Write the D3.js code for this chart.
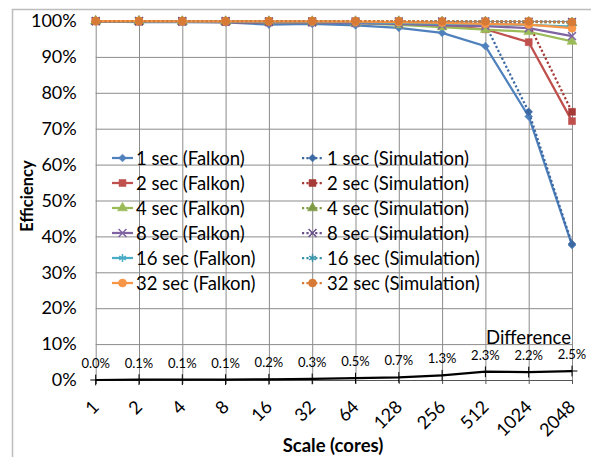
<!DOCTYPE html>
<html><head><meta charset="utf-8">
<script src="https://cdn.jsdelivr.net/npm/d3@7"></script>
<style>
html,body{margin:0;padding:0;background:#fff;}
svg{display:block;font-family:Lato,"Open Sans",sans-serif;}
</style></head>
<body><svg id="c" width="591" height="457"></svg>
<script>
// ---- data ----
const categories = ["1","2","4","8","16","32","64","128","256","512","1024","2048"];
const yTicks = [0,10,20,30,40,50,60,70,80,90,100];
const seriesNames = ["1 sec","2 sec","4 sec","8 sec","16 sec","32 sec"];
const falkon1  = [99.9, 99.7, 99.7, 99.6, 99.0, 99.2, 98.8, 98.1, 96.7, 93.0, 73.4, 37.6];
const sim1     = [100, 99.9, 99.9, 99.9, 99.8, 99.8, 99.7, 99.6, 99.4, 99.0, 74.7, 37.9];
const falkon2  = [99.9, 99.8, 99.8, 99.7, 99.6, 99.6, 99.5, 99.2, 98.7, 97.7, 94.1, 72.1];
const sim2     = [100, 99.9, 99.9, 99.9, 99.9, 99.9, 99.8, 99.8, 99.7, 99.5, 99.2, 74.7];
const falkon4  = [99.9, 99.8, 99.8, 99.8, 99.7, 99.6, 99.4, 98.9, 98.3, 97.6, 97.0, 94.3];
const sim4     = [100, 100, 99.9, 99.9, 99.9, 99.9, 99.9, 99.9, 99.8, 99.8, 99.7, 99.5];
const falkon8  = [99.9, 99.9, 99.8, 99.8, 99.7, 99.6, 99.4, 99.2, 98.8, 98.6, 98.0, 95.8];
const sim8     = [100, 100, 100, 100, 99.9, 99.9, 99.9, 99.9, 99.9, 99.9, 99.8, 99.7];
const falkon16 = [100, 99.9, 99.9, 99.9, 99.8, 99.8, 99.7, 99.5, 99.3, 99.1, 98.9, 98.4];
const sim16    = [100, 100, 100, 100, 100, 100, 99.9, 99.9, 99.9, 99.9, 99.9, 99.8];
const falkon32 = [100, 100, 99.9, 99.9, 99.9, 99.9, 99.8, 99.7, 99.5, 99.2, 99.0, 98.0];
const sim32    = [100, 100, 100, 100, 100, 100, 100, 100, 99.9, 99.9, 99.9, 99.7];
const difference = [0.0, 0.1, 0.1, 0.1, 0.2, 0.3, 0.5, 0.7, 1.3, 2.3, 2.2, 2.5];
const diffLabels = ["0.0%","0.1%","0.1%","0.1%","0.2%","0.3%","0.5%","0.7%","1.3%","2.3%","2.2%","2.5%"];

const falkonColors = ["#4F81BD","#C0504D","#9BBB59","#8064A2","#4BACC6","#F79646"];
const simColors    = ["#3D69A3","#A63A37","#7F9C45","#684F88","#3792AA","#D67A36"];
const markerTypes  = ["diamond","square","triangle","times","asterisk","circle"];

const falkonData = [falkon1,falkon2,falkon4,falkon8,falkon16,falkon32];
const simData    = [sim1,sim2,sim4,sim8,sim16,sim32];

// ---- chart ----
const svg = d3.select("#c");
const x = d3.scalePoint().domain(categories).range([95.7, 572]);
const y = d3.scaleLinear().domain([0,100]).range([380, 21]);
const gridColor = "#8c8c8c";

// outer border
svg.append("rect").attr("x",12.5).attr("y",9.5).attr("width",620).attr("height",480)
  .attr("fill","none").attr("stroke","#bdbdbd").attr("stroke-width",1.5);

// horizontal gridlines
svg.append("g").attr("transform","translate(95.7,0)")
  .call(d3.axisLeft(y).tickValues(yTicks.slice(1)).tickSize(-(572-95.7)).tickFormat(""))
  .call(g=>g.select(".domain").remove())
  .call(g=>g.selectAll("line").attr("stroke",gridColor).attr("stroke-width",1));
// vertical gridlines
svg.append("g").attr("transform","translate(0,21)")
  .call(d3.axisTop(x).tickSize(-(380-21)).tickFormat(""))
  .call(g=>g.select(".domain").remove())
  .call(g=>g.selectAll("line").attr("stroke",gridColor).attr("stroke-width",1));

// y labels
svg.append("g").attr("transform","translate(95.7,0)")
  .call(d3.axisLeft(y).tickValues(yTicks).tickSize(0).tickPadding(19).tickFormat(d=>d+"%"))
  .call(g=>g.select(".domain").remove())
  .call(g=>g.selectAll("text").attr("font-size",18).attr("fill","#000").attr("font-family","Lato"));

// x axis
const xa = svg.append("g").attr("transform","translate(0,380)")
  .call(d3.axisBottom(x).tickSize(4))
  .call(g=>g.select(".domain").attr("stroke","#555"))
  .call(g=>g.selectAll("line").attr("stroke","#555"));
xa.selectAll("text").attr("font-size",18).attr("fill","#000").attr("font-family","Lato")
  .attr("text-anchor","end").attr("x",0).attr("y",0).attr("dy",null)
  .attr("transform","translate(4,28) rotate(-45)");

// marker helper
function symbolFor(t){
  switch(t){
    case "diamond": return {type:d3.symbolSquare,size:30,rot:45,fill:true};
    case "square": return {type:d3.symbolSquare,size:48,rot:0,fill:true};
    case "triangle": return {type:d3.symbolTriangle,size:42,rot:0,fill:true};
    case "times": return {type:d3.symbolTimes,size:42,rot:0,fill:false};
    case "asterisk": return {type:d3.symbolAsterisk,size:42,rot:0,fill:false};
    case "circle": return {type:d3.symbolCircle,size:50,rot:0,fill:true};
  }
}
function drawMarker(g, t, color, cx, cy){
  const s = symbolFor(t);
  g.append("path").attr("d", d3.symbol().type(s.type).size(s.size)())
    .attr("transform",`translate(${cx},${cy}) rotate(${s.rot})`)
    .attr("fill", s.fill ? color : "none")
    .attr("stroke", color).attr("stroke-width", s.fill ? 0.6 : 1.5);
}

const line = d3.line().x((d,i)=>x(categories[i])).y(d=>y(d));
const plot = svg.append("g");
for(let k=0;k<6;k++){
  [[falkonData[k], falkonColors[k], false],[simData[k], simColors[k], true]].forEach(([data,color,dotted])=>{
    const g = plot.append("g");
    g.append("path").datum(data).attr("d",line).attr("fill","none")
      .attr("stroke",color).attr("stroke-width",2.25)
      .attr("stroke-dasharray", dotted ? "2.2,2.2" : null);
    data.forEach((v,i)=>drawMarker(g, markerTypes[k], color, x(categories[i]), y(v)));
  });
}

// difference series
const dg = svg.append("g");
dg.append("path").datum(difference).attr("d",line).attr("fill","none")
  .attr("stroke","#000").attr("stroke-width",2.25);
difference.forEach((v,i)=>{
  const cx = x(categories[i]), cy = y(v);
  dg.append("path").attr("d", d3.symbol().type(d3.symbolPlus).size(40)())
    .attr("transform",`translate(${cx},${cy})`).attr("fill","none").attr("stroke","#000").attr("stroke-width",1);
  dg.append("text").attr("x",cx).attr("y",cy-12).attr("text-anchor","middle")
    .attr("font-size",13).attr("fill","#000").text(diffLabels[i]);
});
dg.append("text").attr("x",571).attr("y",344).attr("text-anchor","end")
  .attr("font-size",18.5).attr("fill","#000").text("Difference");

// legend
const lg = svg.append("g");
for(let k=0;k<6;k++){
  const ry = 158 + k*25;
  [[112,136,falkonColors[k],false," (Falkon)"],[302,327,simColors[k],true," (Simulation)"]].forEach(([lx,tx,color,dotted,suffix])=>{
    lg.append("line").attr("x1",lx).attr("x2",lx+21).attr("y1",ry).attr("y2",ry)
      .attr("stroke",color).attr("stroke-width",2.25).attr("stroke-dasharray",dotted?"2.2,2.2":null);
    drawMarker(lg, markerTypes[k], color, lx+10.5, ry);
    lg.append("text").attr("x",tx).attr("y",ry).attr("dy","0.36em")
      .attr("font-size",18.5).attr("fill","#000").text(seriesNames[k]+suffix);
  });
}

// axis titles
svg.append("text").attr("transform","translate(33,196) rotate(-90)").attr("text-anchor","middle")
  .attr("font-size",16.5).attr("font-weight","bold").attr("fill","#000").text("Efficiency");
svg.append("text").attr("x",333).attr("y",452).attr("text-anchor","middle")
  .attr("font-size",18.5).attr("font-weight","bold").attr("fill","#000").text("Scale (cores)");
</script></body></html>
